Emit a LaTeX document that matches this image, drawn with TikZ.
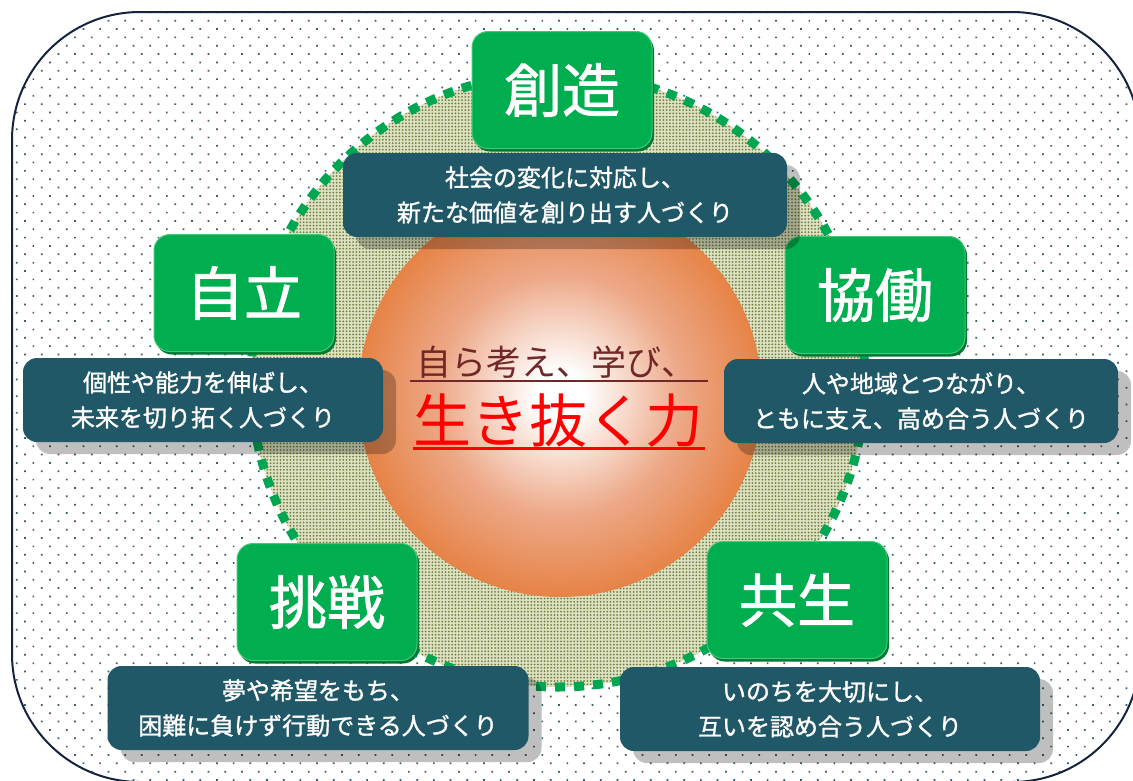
\documentclass[tikz,border=0pt]{standalone}
\usepackage{fontspec}
\newfontfamily\jpfont{Noto Sans CJK JP}
\newfontfamily\jpbold{Noto Sans CJK JP}[FakeBold=1.3]
\usetikzlibrary{shadows,patterns.meta}
\definecolor{framec}{RGB}{20,35,64}
\definecolor{dotc}{RGB}{55,95,110}
\definecolor{hatchbg}{RGB}{222,224,196}
\definecolor{hatchdot}{RGB}{110,130,60}
\definecolor{dashc}{RGB}{0,166,81}
\definecolor{keyc}{RGB}{0,173,79}
\definecolor{keydark}{RGB}{0,120,50}
\definecolor{keylight}{RGB}{70,200,120}
\definecolor{descc}{RGB}{33,88,104}
\definecolor{orbmid}{RGB}{237,168,135}
\definecolor{orbout}{RGB}{227,112,38}
\definecolor{brownc}{RGB}{112,40,40}
\pgfdeclareradialshading{orb}{\pgfpoint{0bp}{0bp}}{color(0bp)=(white); color(3bp)=(white); color(15bp)=(orbmid); color(30bp)=(orbout); color(50bp)=(orbout)}

\begin{document}
\begin{tikzpicture}
[x=1pt,y=-1pt,
 keybox/.style={fill=keyc,draw=keylight,line width=1pt,rounded corners=16pt,
   minimum width=180pt,minimum height=117pt,text=white,
   font=\jpbold\fontsize{58}{60}\selectfont,
   drop shadow={shadow xshift=2pt,shadow yshift=-3pt,fill=keydark,opacity=1}},
 descbox/.style={fill=descc,rounded corners=14pt,minimum height=84pt,text=white,
   align=center,font=\jpbold\fontsize{24}{35}\selectfont,
   drop shadow={shadow xshift=13pt,shadow yshift=-12pt,fill=black,opacity=0.25}}]
\useasboundingbox (0,0) rectangle (1133,780);

\path[fill=white,rounded corners=128pt,
  postaction={pattern={Dots[distance=11.8pt,radius=1.2pt,angle=45]},pattern color=dotc}]
  (12,12) rectangle (1140,782);
\draw[framec,line width=2pt,rounded corners=128pt] (12,12) rectangle (1140,782);

\fill[hatchbg] (558,380) circle (307pt);
\fill[pattern={Dots[distance=3.3pt,radius=1pt]},pattern color=hatchdot] (558,380) circle (307pt);
\draw[dashc,line width=9pt,dash pattern=on 10pt off 9pt] (558,380) circle (307pt);

\shade[shading=orb] (560,395) circle (202pt);

\node[keybox] (sozo) at (562,90) {創造};
\node[keybox] (jiritsu) at (244,293) {自立};
\node[keybox] (kyodo) at (875,295) {協働};
\node[keybox] (chosen) at (327,602) {挑戦};
\node[keybox] (kyosei) at (797,600) {共生};

\node[descbox,minimum width=444pt] (sozo-d) at (565,195) {社会の変化に対応し、\\新たな価値を創り出す人づくり};
\node[descbox,minimum width=360pt] (jiritsu-d) at (203,400) {個性や能力を伸ばし、\\未来を切り拓く人づくり};
\node[descbox,minimum width=394pt] (kyodo-d) at (921,401) {人や地域とつながり、\\ともに支え、高め合う人づくり};
\node[descbox,minimum width=421pt] (chosen-d) at (318,708) {夢や希望をもち、\\困難に負けず行動できる人づくり};
\node[descbox,minimum width=420pt] (kyosei-d) at (830,709) {いのちを大切にし、\\互いを認め合う人づくり};

\node[text=brownc,font=\jpfont\fontsize{35}{35}\selectfont] (manabi) at (556,362) {自ら考え、学び、};
\draw[brownc,line width=1.5pt] (410,381) -- (708,381);
\node[text=red,font=\jpfont\fontsize{58}{58}\selectfont] (ikiru) at (558,421) {生き抜く力};
\draw[red,line width=3pt] (413,448) -- (705,448);
\end{tikzpicture}
\end{document}
